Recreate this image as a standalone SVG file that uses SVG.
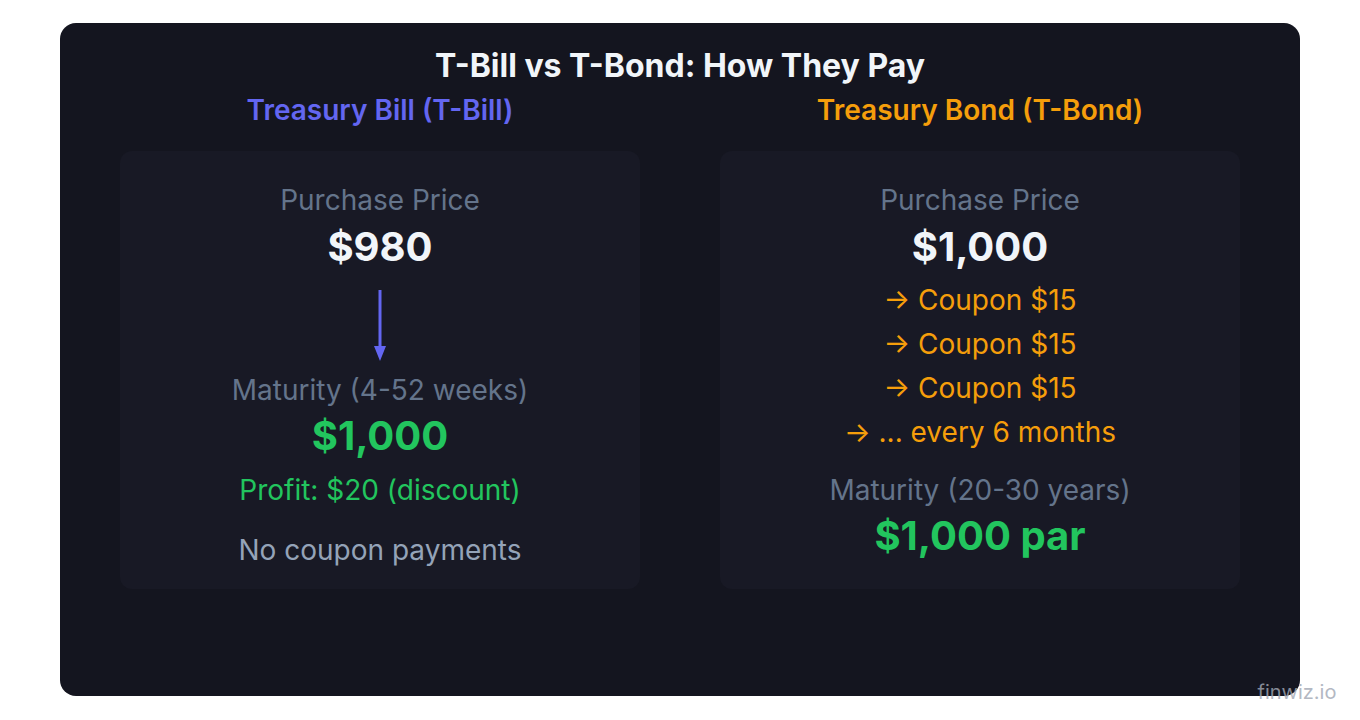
<svg xmlns="http://www.w3.org/2000/svg" width="1360" height="720" viewBox="0 0 1360 720">
<defs>
<style>
text{font-family:Inter,"Noto Sans","Liberation Sans",sans-serif;text-anchor:middle}
.title{font-size:32px;font-weight:700;fill:#f1f5f9}
.head{font-size:28px;font-weight:600}
.lbl{font-size:28px;fill:#64748b}
.big{font-size:40px;font-weight:700}
.cpn{font-size:28px;fill:#f59e0b}
.card{fill:#181925}
</style>
<marker id="ah" markerWidth="16" markerHeight="12" refX="0" refY="6" orient="auto" markerUnits="userSpaceOnUse" viewBox="0 0 16 12">
<path d="M0,0 L15,6 L0,12 Z" fill="#6366f1"/>
</marker>
</defs>
<rect width="1360" height="720" fill="#ffffff"/>
<rect x="60" y="23" width="1240" height="673" rx="16" fill="#14151f"/>
<text class="title" x="680" y="77">T-Bill vs T-Bond: How They Pay</text>
<g id="tbill">
<text class="head" x="380" y="120" fill="#6366f1">Treasury Bill (T-Bill)</text>
<rect class="card" x="120" y="151" width="520" height="438" rx="12"/>
<text class="lbl" x="380" y="210">Purchase Price</text>
<text class="big" x="380" y="261" fill="#f1f5f9">$980</text>
<text class="lbl" x="380" y="400">Maturity (4-52 weeks)</text>
<text class="big" x="380" y="450" fill="#22c55e">$1,000</text>
<text x="380" y="500" font-size="28" fill="#22c55e">Profit: $20 (discount)</text>
<text x="380" y="560" font-size="28" fill="#94a3b8">No coupon payments</text>
</g>
<g id="tbond">
<text class="head" x="980" y="120" fill="#f59e0b">Treasury Bond (T-Bond)</text>
<rect class="card" x="720" y="151" width="520" height="438" rx="12"/>
<text class="lbl" x="980" y="210">Purchase Price</text>
<text class="big" x="980" y="261" fill="#f1f5f9">$1,000</text>
<text class="cpn" x="980" y="310">→ Coupon $15</text>
<text class="cpn" x="980" y="354">→ Coupon $15</text>
<text class="cpn" x="980" y="398">→ Coupon $15</text>
<text class="cpn" x="980" y="442">→ ... every 6 months</text>
<text class="lbl" x="980" y="500">Maturity (20-30 years)</text>
<text class="big" x="980" y="550" fill="#22c55e">$1,000 par</text>
</g>
<g id="connectors">
<line x1="380" y1="290" x2="380" y2="346" stroke="#6366f1" stroke-width="3" marker-end="url(#ah)"/>
</g>
<text x="1297" y="699" font-size="20" fill="#a1a7b4" opacity="0.8">finwiz.io</text>
</svg>
